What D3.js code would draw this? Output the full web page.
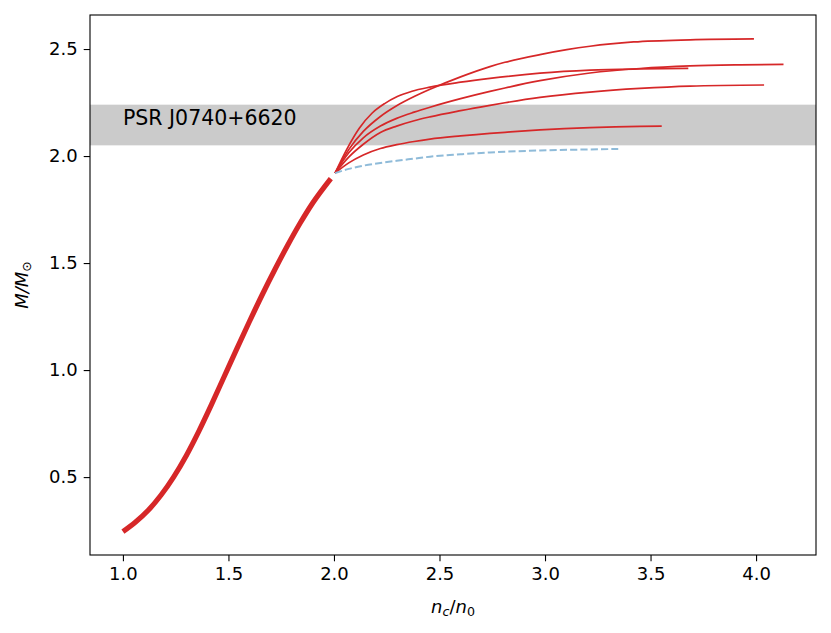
<!DOCTYPE html>
<html><head><meta charset="utf-8">
<script src="https://cdn.jsdelivr.net/npm/d3@7"></script>
<style>body{margin:0;background:#fff}text{font-family:"DejaVu Sans",sans-serif}</style>
</head><body><svg id="c" width="831" height="633"></svg>
<script>
// main (stable) branch
const mainX = [1.0,1.06,1.12,1.18,1.24,1.30,1.36,1.42,1.48,1.54,1.60,1.66,1.72,1.78,1.84,1.90,1.985];
const mainY = [0.245,0.29,0.345,0.415,0.50,0.60,0.715,0.84,0.97,1.10,1.228,1.352,1.47,1.582,1.687,1.782,1.895];
// red branches
const brA_x = [2.005,2.07,2.139,2.22,2.297,2.38,2.455,2.6,2.739,2.81,2.976,3.103,3.213,3.42,3.687,3.99];
const brA_y = [1.92,2.03,2.115,2.185,2.235,2.278,2.312,2.37,2.418,2.438,2.474,2.497,2.513,2.533,2.543,2.547];
const brB_x = [2.005,2.06,2.12,2.18,2.24,2.30,2.37,2.455,2.6,2.739,2.976,3.213,3.45,3.679];
const brB_y = [1.92,2.03,2.13,2.20,2.245,2.278,2.303,2.322,2.345,2.363,2.387,2.401,2.407,2.41];
const brC_x = [2.005,2.07,2.139,2.22,2.297,2.38,2.455,2.6,2.739,2.81,2.976,3.213,3.45,3.687,3.924,4.13];
const brC_y = [1.92,2.015,2.085,2.14,2.176,2.205,2.228,2.268,2.302,2.318,2.352,2.388,2.409,2.421,2.426,2.428];
const brD_x = [2.005,2.07,2.139,2.22,2.297,2.38,2.455,2.6,2.739,2.81,2.976,3.213,3.45,3.687,4.038];
const brD_y = [1.92,1.995,2.055,2.11,2.14,2.165,2.183,2.212,2.237,2.249,2.274,2.299,2.316,2.327,2.332];
const brE_x = [2.005,2.07,2.139,2.22,2.297,2.38,2.455,2.6,2.739,2.81,2.976,3.213,3.45,3.553];
const brE_y = [1.92,1.968,2.005,2.035,2.053,2.068,2.079,2.094,2.106,2.111,2.122,2.133,2.139,2.14];
// dashed branch
const dashX = [2.005,2.07,2.139,2.22,2.297,2.38,2.455,2.6,2.739,2.976,3.213,3.347];
const dashY = [1.92,1.94,1.955,1.968,1.978,1.988,1.997,2.008,2.017,2.026,2.031,2.033];
// PSR J0740+6620 band
const bandLow = 2.05, bandHigh = 2.24;
const bandLabel = "PSR J0740+6620";
const xTicks = [1.0,1.5,2.0,2.5,3.0,3.5,4.0];
const yTicks = [0.5,1.0,1.5,2.0,2.5];

const svg = d3.select("#c");
const L=90,R=816,T=15,B=555;
const x = d3.scaleLinear().domain([0.844,4.284]).range([L,R]);
const y = d3.scaleLinear().domain([0.136,2.659]).range([B,T]);
const zip=(a,b)=>a.map((v,i)=>[v,b[i]]);
const line = d3.line().x(d=>x(d[0])).y(d=>y(d[1])).curve(d3.curveMonotoneX);

svg.append("rect").attr("x",L).attr("width",R-L).attr("y",y(bandHigh)).attr("height",y(bandLow)-y(bandHigh)).attr("fill","#cbcbcb");

svg.append("path").attr("d",line(zip(mainX,mainY))).attr("fill","none").attr("stroke","#d62728").attr("stroke-width",5.2);
[[brA_x,brA_y],[brB_x,brB_y],[brC_x,brC_y],[brD_x,brD_y],[brE_x,brE_y]].forEach(([a,b])=>{
  svg.append("path").attr("d",line(zip(a,b))).attr("fill","none").attr("stroke","#d62728").attr("stroke-width",1.7);
});
svg.append("path").attr("d",line(zip(dashX,dashY))).attr("fill","none").attr("stroke","#8fbbd9").attr("stroke-width",2).attr("stroke-dasharray","7.2,3.1");

svg.append("text").attr("x",x(1.0)).attr("y",y(2.145)).attr("font-size",20.5).attr("fill","#000").text(bandLabel);

const xa = svg.append("g").attr("transform",`translate(0,${B})`).call(d3.axisBottom(x).tickValues(xTicks).tickFormat(d3.format(".1f")).tickSize(6.3).tickPadding(6));
const ya = svg.append("g").attr("transform",`translate(${L},0)`).call(d3.axisLeft(y).tickValues(yTicks).tickFormat(d3.format(".1f")).tickSize(6.3).tickPadding(6));
[xa,ya].forEach(g=>{g.select(".domain").remove();g.selectAll("line").attr("stroke","#000").attr("stroke-width",1.1);g.selectAll("text").attr("font-size",18).attr("fill","#000").style("font-family","DejaVu Sans");});
svg.append("rect").attr("x",L).attr("y",T).attr("width",R-L).attr("height",B-T).attr("fill","none").attr("stroke","#000").attr("stroke-width",1.1);

const xl = svg.append("text").attr("x",(L+R)/2).attr("y",613).attr("text-anchor","middle").attr("font-size",18);
xl.append("tspan").attr("font-style","italic").text("n");
xl.append("tspan").attr("font-style","italic").attr("font-size",12.6).attr("dy",3).text("c");
xl.append("tspan").attr("dy",-3).text("/");
xl.append("tspan").attr("font-style","italic").text("n");
xl.append("tspan").attr("font-size",12.6).attr("dy",3).text("0");

const yl = svg.append("text").attr("transform",`translate(28,${(T+B)/2}) rotate(-90)`).attr("text-anchor","middle").attr("font-size",18);
yl.append("tspan").attr("font-style","italic").text("M/M");
yl.append("tspan").attr("font-size",12.6).attr("dy",3).text("⊙");
</script></body></html>
